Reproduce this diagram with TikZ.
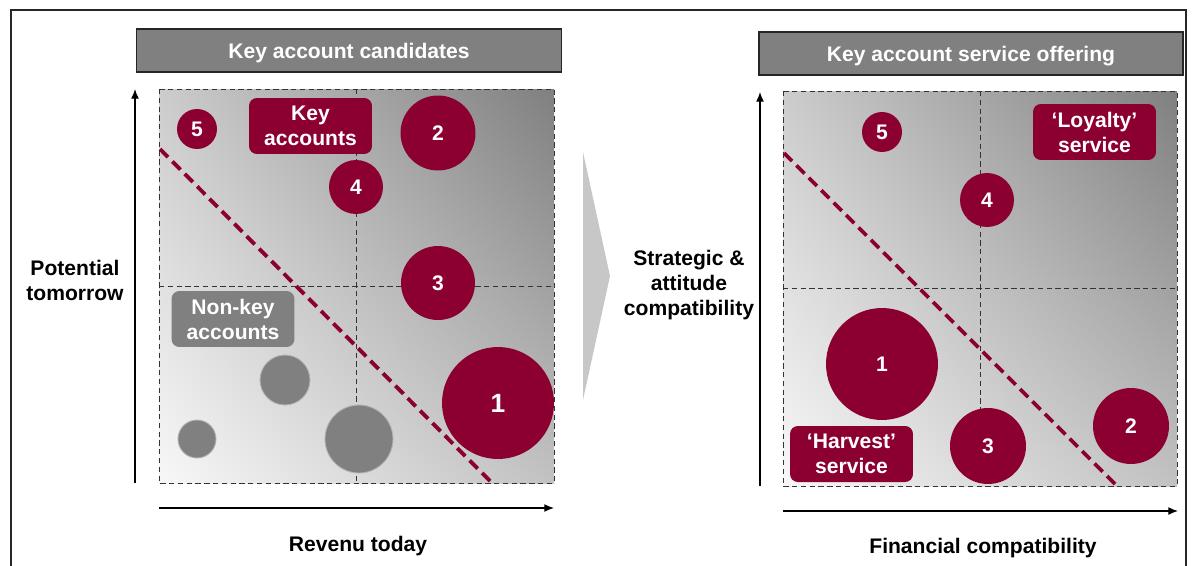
\documentclass[tikz,border=0pt]{standalone}
\usepackage{fontspec}
\setmainfont{Liberation Sans}
\usepackage{xcolor}
\usepackage{tikz}
\usetikzlibrary{shapes,arrows,arrows.meta,positioning,shadings}

\definecolor{wine}{RGB}{139,0,48}
\definecolor{midgray}{RGB}{128,128,128}

\begin{document}
\begin{tikzpicture}[x=0.02cm, y=-0.02cm,
    font=\fontsize{12}{14.2}\selectfont\bfseries,
    header/.style={rectangle, draw=black!85, line width=0.8pt, fill=midgray, text=white, minimum width=8.5cm, minimum height=0.86cm, inner sep=0pt, text depth=0pt},
    field/.style={lower left=black!3, upper right=black!50, upper left=black!20, lower right=black!24},
    grid/.style={densely dashed, black!80, line width=0.5pt},
    cutline/.style={wine, line width=2.2pt, dash pattern=on 6.5pt off 3.5pt},
    axis/.style={-{Latex[length=5.5pt, width=4.5pt]}, line width=0.7pt},
    account/.style={circle, fill=wine, text=white, inner sep=0pt},
    other/.style={circle, fill=midgray, draw=black!30, line width=0.5pt, inner sep=0pt},
    tag/.style={rectangle, rounded corners=4.5pt, text=white, align=center, minimum width=2.46cm, minimum height=1.12cm, inner sep=0pt}
]
    \clip (0,0) rectangle (1194,565);
    \draw[line width=1.4pt, black!85] (11,10) rectangle (1186,640);

    % left matrix: candidates
    \node[header] (headL) at (349,50.5) {Key account candidates};
    \shade[field] (159,89) rectangle (554,483);
    \draw[grid] (159,89) rectangle (554,483);
    \draw[grid] (356,89) -- (356,483);
    \draw[grid] (159,286) -- (554,286);

    \coordinate (originL) at (135,483);
    \coordinate (topL) at (135,89);
    \coordinate (startL) at (159,508);
    \coordinate (endL) at (554,508);
    \draw[axis] (originL) -- (topL);
    \draw[axis] (startL) -- (endL);
    \node[align=center] (potential) at (75,280) {Potential\\tomorrow};
    \node (revenue) at (358,546) {Revenu today};

    \node[other, minimum size=1.0cm] (g1) at (285,380) {};
    \node[other, minimum size=0.76cm] (g2) at (197,439) {};
    \node[other, minimum size=1.36cm] (g3) at (359,439) {};

    \coordinate (cutL1) at (160,149);
    \coordinate (cutL2) at (492,483);
    \draw[cutline] (cutL1) -- (cutL2);

    \node[account, minimum size=0.8cm] (a5) at (197,129) {5};
    \node[account, minimum size=1.5cm] (a2) at (438,133) {2};
    \node[account, minimum size=1.08cm] (a4) at (356,187) {4};
    \node[account, minimum size=1.48cm] (a3) at (438,283) {3};
    \node[account, minimum size=2.24cm, font=\fontsize{15}{18}\selectfont\bfseries] (a1) at (498,403) {1};

    \node[tag, fill=wine] (keyacc) at (310.5,126) {Key\\accounts};
    \node[tag, fill=midgray] (nonkey) at (233,319) {Non-key\\accounts};

    % transition
    \fill[black!22] (583,152) -- (610,276) -- (583,400) -- cycle;
    \node[align=center] (strategic) at (689,285) {Strategic \&\\attitude\\compatibility};

    % right matrix: service offering
    \node[header, minimum width=8.48cm] (headR) at (971,53.5) {Key account service offering};
    \shade[field] (783,91) rectangle (1177,486);
    \draw[grid] (783,91) rectangle (1177,486);
    \draw[grid] (980,91) -- (980,486);
    \draw[grid] (783,288) -- (1177,288);

    \coordinate (originR) at (760,486);
    \coordinate (topR) at (760,92);
    \coordinate (startR) at (783,511);
    \coordinate (endR) at (1178,511);
    \draw[axis] (originR) -- (topR);
    \draw[axis] (startR) -- (endR);
    \node (financial) at (983,548) {Financial compatibility};

    \coordinate (cutR1) at (784,153);
    \coordinate (cutR2) at (1117,486);
    \draw[cutline] (cutR1) -- (cutR2);

    \node[account, minimum size=0.8cm] (b5) at (882,132) {5};
    \node[account, minimum size=1.08cm] (b4) at (987,200) {4};
    \node[account, minimum size=2.24cm] (b1) at (882,364) {1};
    \node[account, minimum size=1.52cm] (b3) at (988,446) {3};
    \node[account, minimum size=1.52cm] (b2) at (1131,426) {2};

    \node[tag, fill=wine] (loyalty) at (1094.5,132) {‘Loyalty’\\service};
    \node[tag, fill=wine] (harvest) at (851.5,454) {‘Harvest’\\service};
\end{tikzpicture}
\end{document}
